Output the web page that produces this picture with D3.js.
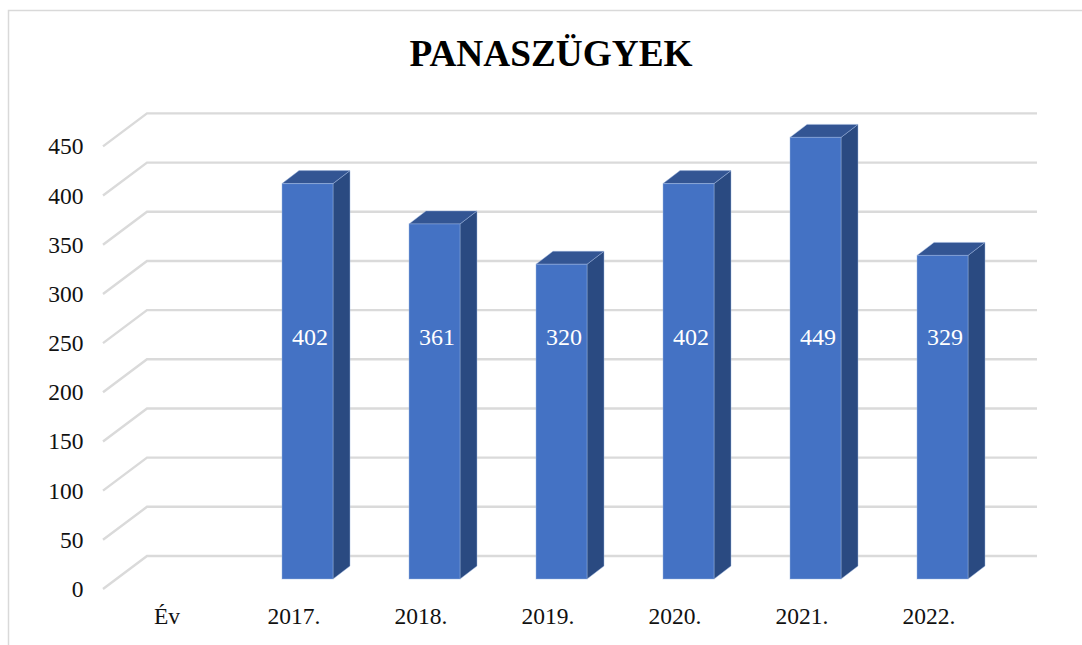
<!DOCTYPE html>
<html>
<head>
<meta charset="utf-8">
<script src="https://d3js.org/d3.v7.min.js"></script>
<style>
  html, body { margin: 0; padding: 0; background: #fff; }
  svg { display: block; }
  text { font-family: "Liberation Serif", serif; fill: #111; }
  .domain { display: none; }
</style>
</head>
<body>
<div id="chart"></div>
<script>
// data
const categories = ["Év", "2017.", "2018.", "2019.", "2020.", "2021.", "2022."];
const panaszugyek = [null, 402, 361, 320, 402, 449, 329];
const yTicks = [0, 50, 100, 150, 200, 250, 300, 350, 400, 450];

const width = 1082, height = 645;
const baseY = 579;
const barWidth = 51, barShift = 12.5;
const barDepthX = 17, barDepthY = 13;
const edge = "#9db5e0";

const svg = d3.select("#chart").append("svg")
  .attr("width", width)
  .attr("height", height);

// frame, open on the right and bottom
svg.append("path")
  .attr("d", "M8.5," + height + "V10.5H" + width)
  .attr("fill", "none")
  .attr("stroke", "#d9d9d9")
  .attr("stroke-width", 1.5);

svg.append("text")
  .attr("x", 551)
  .attr("y", 66)
  .attr("text-anchor", "middle")
  .style("font-size", "37.3px")
  .style("font-weight", "bold")
  .style("fill", "#000")
  .text("PANASZÜGYEK");

const x = d3.scaleBand()
  .domain(categories)
  .range([104.5, 993.5])
  .paddingInner(76 / 127)
  .paddingOuter(38 / 127);

const y = d3.scaleLinear()
  .domain([0, 450])
  .range([baseY, baseY - 442.6]);

// gridlines on the floor edge + back wall
svg.append("g").selectAll("path")
  .data(yTicks)
  .enter().append("path")
  .attr("d", function (d) {
    return "M103," + (y(d) + 10) + "L147," + (y(d) - 23) + "H1037";
  })
  .attr("fill", "none")
  .attr("stroke", "#dadada")
  .attr("stroke-width", 2.4);

const yAxis = d3.axisLeft(y)
  .tickValues(yTicks)
  .tickSize(0)
  .tickPadding(0);

svg.append("g")
  .attr("transform", "translate(83.5,10)")
  .call(yAxis)
  .selectAll("text")
  .style("font-size", "23.5px")
  .style("font-family", "'Liberation Serif', serif")
  .style("fill", "#111");

const xAxis = d3.axisBottom(x)
  .tickSize(0)
  .tickPadding(0);

svg.append("g")
  .attr("transform", "translate(-1,607)")
  .call(xAxis)
  .selectAll("text")
  .style("font-size", "23.5px")
  .style("font-family", "'Liberation Serif', serif")
  .style("fill", "#111");

// bars
const rows = categories
  .map(function (c, i) { return { cat: c, value: panaszugyek[i] }; })
  .filter(function (d) { return d.value !== null; });

const bar = svg.append("g").selectAll("g")
  .data(rows)
  .enter().append("g")
  .attr("class", "bar");

bar.append("path")
  .attr("fill", "#2a4a81")
  .attr("stroke", edge)
  .attr("stroke-opacity", 0.45)
  .attr("d", function (d) {
    const r = x(d.cat) + barShift + barWidth;
    return "M" + r + "," + baseY + "V" + y(d.value)
      + "l" + barDepthX + "," + (-barDepthY)
      + "V" + (baseY - barDepthY) + "Z";
  });

bar.append("path")
  .attr("fill", "#335593")
  .attr("stroke", edge)
  .attr("stroke-opacity", 0.45)
  .attr("d", function (d) {
    const l = x(d.cat) + barShift;
    return "M" + l + "," + y(d.value)
      + "l" + barDepthX + "," + (-barDepthY)
      + "h" + barWidth
      + "l" + (-barDepthX) + "," + barDepthY + "Z";
  });

bar.append("rect")
  .attr("x", function (d) { return x(d.cat) + barShift; })
  .attr("y", function (d) { return y(d.value); })
  .attr("width", barWidth)
  .attr("height", function (d) { return baseY - y(d.value); })
  .attr("fill", "#4472c4")
  .attr("stroke", edge)
  .attr("stroke-opacity", 0.45);

bar.append("text")
  .attr("x", function (d) { return x(d.cat) + barShift + barWidth / 2 + 2.5; })
  .attr("y", 345)
  .attr("text-anchor", "middle")
  .style("font-size", "24px")
  .style("fill", "#fff")
  .text(function (d) { return d.value; });
</script>
</body>
</html>
